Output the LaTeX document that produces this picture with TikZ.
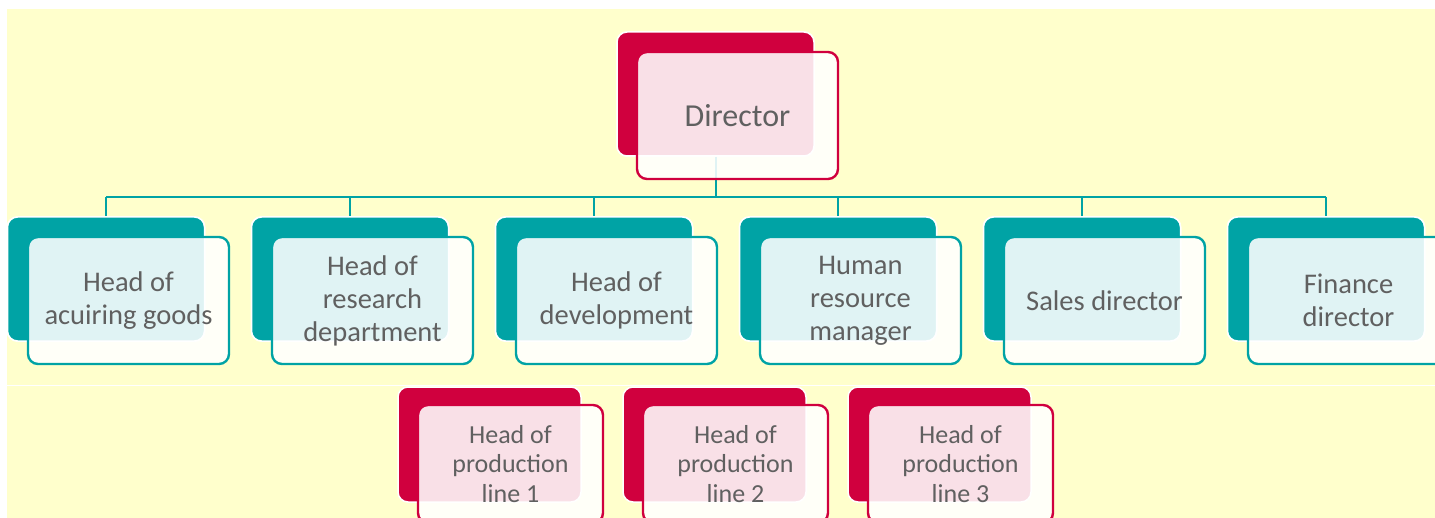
\documentclass[tikz,border=0pt]{standalone}
\usepackage{fontspec}
\setmainfont{Carlito}
\definecolor{bgyellow}{RGB}{255,255,204}
\definecolor{teal1}{RGB}{0,163,165}
\definecolor{crim}{RGB}{208,0,62}
\definecolor{txtgray}{RGB}{96,96,96}
\tikzset{
  back/.style={rectangle, rounded corners=5pt, draw=white, line width=0.75pt, inner sep=0pt},
  backT/.style={back, fill=teal1, minimum width=98.5pt, minimum height=62pt},
  backC/.style={back, fill=crim, minimum width=98.5pt, minimum height=62pt},
  backCs/.style={back, fill=crim, minimum width=91.5pt, minimum height=57.5pt},
  front/.style={rectangle, rounded corners=5pt, line width=1.2pt, inner sep=0pt,
    fill=white, fill opacity=0.88, text opacity=1, text=txtgray, align=center},
  frontT/.style={front, draw=teal1, minimum width=100.5pt, minimum height=63.5pt,
    font=\fontsize{14.25}{16.5}\selectfont},
  frontD/.style={front, draw=crim, minimum width=100.5pt, minimum height=63.5pt,
    font=\fontsize{16}{18}\selectfont},
  frontCs/.style={front, draw=crim, minimum width=92.5pt, minimum height=59pt,
    font=\fontsize{13}{14.75}\selectfont},
  conn/.style={draw=teal1, line width=1pt},
}
\begin{document}
\begin{tikzpicture}[x=0.5pt,y=-0.5pt]
\useasboundingbox (0,0) rectangle (1435,518);
\fill[bgyellow] (7,9) rectangle (1435,518);
\draw[white, line width=0.3pt] (6,385) -- (1435,385);

% director back box first (connectors drawn behind fronts)
\node[backC] (dirB) at (715.5,94) {};
\coordinate (bus) at (715.5,197);

% middle row back boxes
\foreach \i/\nm in {0/m1,1/m2,2/m3,3/m4,4/m5,5/m6}{
  \node[backT] (\nm B) at ({106+244*\i},279) {};
}
% connectors
\draw[conn] (dirB.south) -- (bus);
\draw[conn] (m1B.north |- bus) -- (m6B.north |- bus);
\foreach \nm in {m1,m2,m3,m4,m5,m6}{
  \draw[conn] (\nm B.north |- bus) -- (\nm B.north);
}
% redraw back boxes over connector ends
\foreach \i/\nm in {0/m1,1/m2,2/m3,3/m4,4/m5,5/m6}{
  \node[backT] at ({106+244*\i},279) {};
}
\node[backC] at (715.5,94) {};

% front boxes
\node[frontD] (dirF) at (737.5,115.5) {Director};
\node[frontT] (m1F) at (128.5,300.5) {Head of\\acuiring goods};
\node[frontT] (m2F) at (372.5,300.5) {Head of\\research\\department};
\node[frontT] (m3F) at (616.5,300.5) {Head of\\development};
\node[frontT] (m4F) at (860.5,300.5) {Human\\resource\\manager};
\node[frontT] (m5F) at (1104.5,300.5) {Sales director};
\node[frontT] (m6F) at (1348.5,300.5) {Finance\\director};

% bottom row
\foreach \i/\nm in {0/b1,1/b2,2/b3}{
  \node[backCs] (\nm B) at ({489.5+225*\i},444.5) {};
}
\node[frontCs] (b1F) at (510.5,464) {Head of\\production\\line 1};
\node[frontCs] (b2F) at (735.5,464) {Head of\\production\\line 2};
\node[frontCs] (b3F) at (960.5,464) {Head of\\production\\line 3};
\end{tikzpicture}
\end{document}
